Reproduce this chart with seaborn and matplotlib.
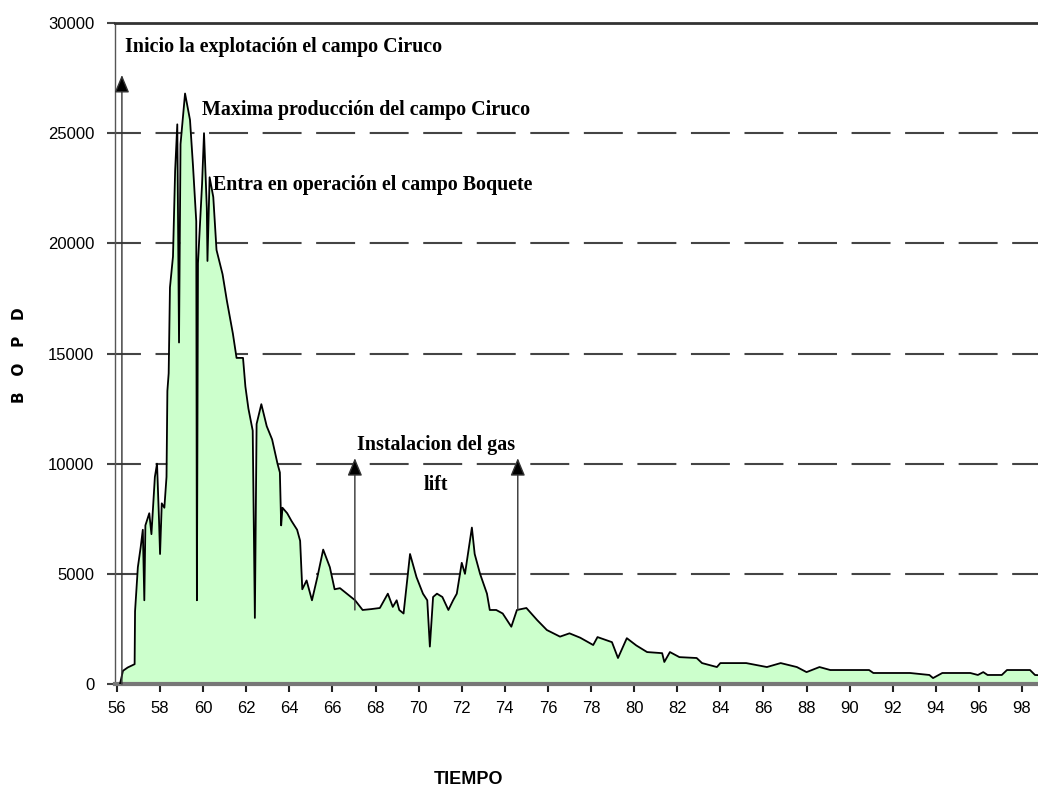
import numpy as np
import pandas as pd
import seaborn as sns
import matplotlib.pyplot as plt
from matplotlib import font_manager

# produccion del campo (BOPD)
years = [56.14, 56.28, 56.5, 56.74, 56.82, 56.84, 56.97, 57.1, 57.2, 57.27,
         57.32, 57.5, 57.6, 57.76, 57.86, 57.95, 58.0, 58.08, 58.2, 58.3,
         58.34, 58.4, 58.46, 58.6, 58.7, 58.8, 58.88, 58.95, 59.16, 59.39,
         59.53, 59.68, 59.71, 59.76, 59.95, 60.04, 60.17, 60.2, 60.3, 60.47,
         60.62, 60.9, 61.1, 61.38, 61.55, 61.85, 61.96, 62.1, 62.3, 62.4,
         62.48, 62.7, 62.95, 63.2, 63.45, 63.56, 63.62, 63.68, 63.9, 64.1,
         64.36, 64.5, 64.6, 64.8, 65.05, 65.3, 65.57, 65.88, 66.1, 66.35,
         66.67, 67.05, 67.4, 67.8, 68.2, 68.57, 68.8, 68.98, 69.1, 69.3,
         69.6, 69.9, 70.2, 70.4, 70.52, 70.67, 70.85, 71.1, 71.38, 71.6,
         71.77, 72.0, 72.15, 72.47, 72.6, 72.85, 73.17, 73.3, 73.6, 73.9,
         74.3, 74.56, 75.0, 75.5, 75.95, 76.56, 77.0, 77.5, 78.1, 78.3,
         78.97, 79.25, 79.66, 80.1, 80.6, 81.3, 81.4, 81.66, 82.1, 82.9,
         83.15, 83.84, 84.0, 85.2, 86.16, 86.8, 87.55, 88.0, 88.6, 89.1,
         90.9, 91.1, 92.8, 93.7, 93.87, 94.3, 95.6, 95.95, 96.2, 96.4,
         97.06, 97.3, 98.37, 98.6, 98.8]
bopd = [0, 600, 750, 860, 900, 3300, 5300, 6200, 7000, 3800,
        7200, 7750, 6800, 9400, 10000, 7500, 5900, 8200, 8000, 9400,
        13300, 14100, 18000, 19400, 23300, 25400, 15500, 24500, 26800, 25600,
        23500, 21000, 3800, 19100, 22700, 25000, 21600, 19200, 23000, 22100,
        19700, 18600, 17400, 15900, 14800, 14800, 13500, 12500, 11500, 3000,
        11800, 12700, 11700, 11100, 10000, 9600, 7200, 8000, 7750, 7400,
        7000, 6500, 4300, 4700, 3800, 4850, 6100, 5300, 4300, 4350,
        4100, 3800, 3360, 3400, 3450, 4100, 3500, 3800, 3360, 3200,
        5900, 4850, 4100, 3800, 1700, 3950, 4100, 3950, 3360, 3800,
        4100, 5500, 5000, 7100, 5900, 5000, 4100, 3360, 3360, 3200,
        2600, 3360, 3450, 2900, 2450, 2150, 2300, 2100, 1770, 2130,
        1900, 1180, 2080, 1750, 1450, 1400, 1000, 1450, 1220, 1180,
        950, 770, 950, 950, 770, 950, 770, 540, 770, 635,
        635, 500, 500, 410, 270, 500, 500, 410, 540, 410,
        410, 635, 635, 410, 400]

x_ticks = list(range(56, 99, 2))
y_ticks = [0, 5000, 10000, 15000, 20000, 25000, 30000]

# textos de los eventos: (texto, x, y)
events = [
    ('Inicio la explotación el campo Ciruco', 56.37, 28700),
    ('Maxima producción del campo Ciruco', 59.94, 25820),
    ('Entra en operación el campo Boquete', 60.45, 22420),
    ('Instalacion del gas', 70.8, 10620),
    ('lift', 70.8, 8800),
]
# flechas: (x, base, punta)
arrows = [(56.23, 0, 27640), (67.04, 3360, 10250), (74.6, 3360, 10250)]

sns.set_style('white')
installed = {f.name for f in font_manager.fontManager.ttflist}
sans = 'Liberation Sans' if 'Liberation Sans' in installed else 'DejaVu Sans'
serif = 'Liberation Serif' if 'Liberation Serif' in installed else 'DejaVu Serif'
plt.rcParams['font.family'] = [sans, 'DejaVu Sans']
plt.rcParams['text.color'] = 'black'
plt.rcParams['axes.labelcolor'] = 'black'
plt.rcParams['xtick.labelcolor'] = 'black'
plt.rcParams['ytick.labelcolor'] = 'black'

df = pd.DataFrame({'year': years, 'bopd': bopd})

fig, ax = plt.subplots(figsize=(10.38, 8.07), dpi=100)
fig.subplots_adjust(left=0.1108, right=1.0, bottom=0.1524, top=0.9715)

ax.fill_between(df['year'], df['bopd'], color='#ccffcc', zorder=2, lw=0)
sns.lineplot(data=df, x='year', y='bopd', color='black', lw=1.3,
             estimator=None, ax=ax, zorder=3)

ax.set_xlim(55.91, 98.74)
ax.set_ylim(0, 30000)
ax.set_xticks(x_ticks)
ax.set_yticks(y_ticks)
ax.set_axisbelow(True)
ax.yaxis.grid(True, color='#444444', lw=1.5, linestyle=(6.25, (18.7, 7)))
ax.xaxis.grid(False)

ax.tick_params(axis='x', bottom=True, direction='out', length=6, width=1.5,
               color='#222222', pad=6, labelsize=12, labelcolor='black')
ax.tick_params(axis='y', left=True, direction='out', length=6, width=1.5,
               color='#444444', pad=9, labelsize=12, labelcolor='black')

ax.spines['right'].set_visible(False)
ax.spines['top'].set_color('#333333')
ax.spines['top'].set_linewidth(2)
ax.spines['bottom'].set_color('#777777')
ax.spines['bottom'].set_linewidth(3)
ax.spines['left'].set_color('#555555')
ax.spines['left'].set_linewidth(1)

ax.set_xlabel('TIEMPO', fontweight='bold', fontsize=13, color='black')
ax.xaxis.set_label_coords(0.3825, -0.1316)
ax.set_ylabel('B   O   P   D', fontweight='bold', fontsize=11,
              family='DejaVu Sans', color='black')
ax.yaxis.set_label_coords(-0.103, 0.498)
ax.yaxis.label.set_va('center')

for i, (txt, x, y) in enumerate(events):
    ha = 'center' if i >= 3 else 'left'
    ax.text(x, y, txt, ha=ha, va='baseline', fontsize=14.4, fontweight='bold',
            family=serif, color='black', zorder=5)

for x, y0, y1 in arrows:
    ax.annotate('', xy=(x, y1), xytext=(x, y0),
                arrowprops=dict(arrowstyle='-|>,head_length=0.6,head_width=0.25',
                                color='#333333', fc='black', lw=1.0,
                                mutation_scale=18, shrinkA=0, shrinkB=0),
                zorder=4)

fig.savefig('out.png', dpi=100)
